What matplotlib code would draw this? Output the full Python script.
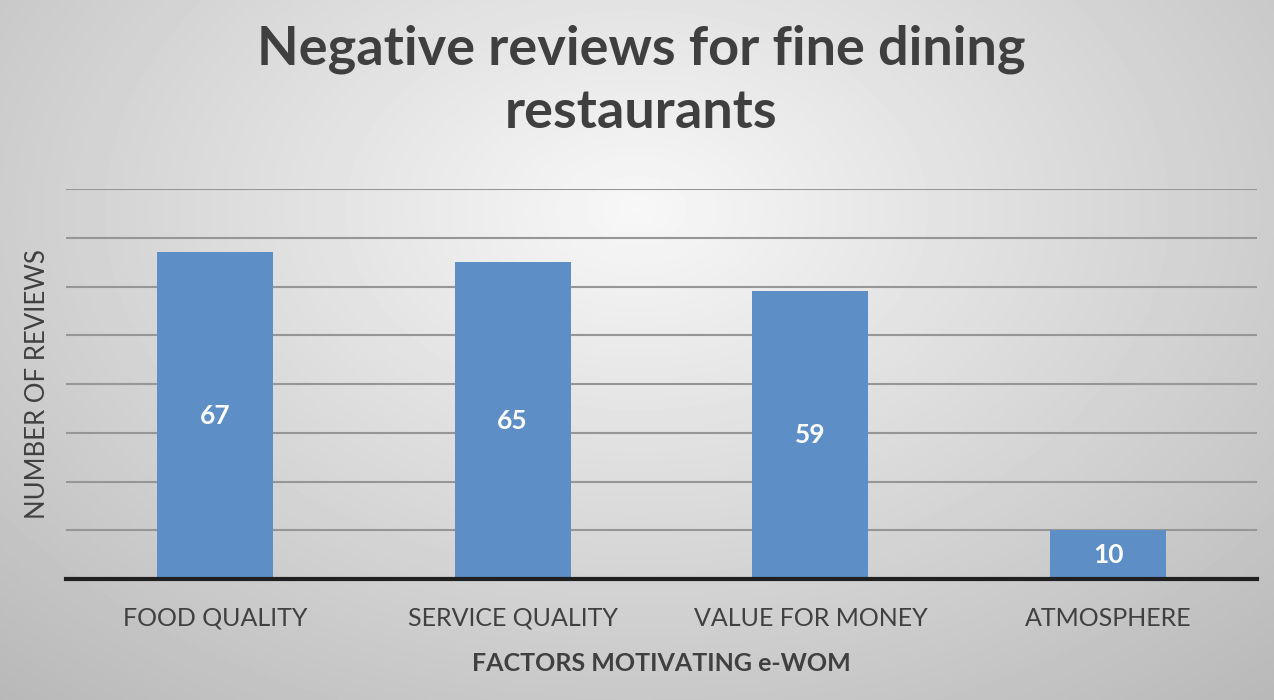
import numpy as np
import matplotlib.pyplot as plt

categories = ['FOOD QUALITY', 'SERVICE QUALITY', 'VALUE FOR MONEY', 'ATMOSPHERE']
reviews = [67, 65, 59, 10]

plt.rcParams['font.family'] = ['Lato', 'DejaVu Sans']

fig = plt.figure(figsize=(12.74, 7), dpi=100)

# radial grey background like the office chart style
bg = fig.add_axes([0, 0, 1, 1], zorder=-10)
yy, xx = np.mgrid[0:1:350j, 0:1:637j]
r = np.sqrt(((xx - 0.5) * 1.0)**2 + ((yy - 0.3) * 0.8)**2)
bg.imshow(0.97 - 0.33 * r, cmap='gray', vmin=0, vmax=1, aspect='auto',
          extent=[0, 1, 1, 0])
bg.set_xlim(0, 1)
bg.set_ylim(1, 0)
bg.axis('off')

ax = fig.add_axes([66/1274, 1 - 579/700, (1257-66)/1274, 390/700])
ax.patch.set_alpha(0)

x = np.arange(len(categories))
bars = ax.bar(x, reviews, width=0.39, color='#5E8EC6', zorder=3)
for b, v in zip(bars, reviews):
    ax.text(b.get_x() + b.get_width()/2, v/2, str(v), ha='center', va='center',
            color='white', fontsize=19, fontweight='bold', zorder=4)

ax.set_xlim(-0.5, len(categories) - 0.5)
ax.set_ylim(0, 80)
ax.set_yticks(np.arange(0, 81, 10))
ax.set_yticklabels([])
ax.tick_params(axis='y', length=0)
ax.tick_params(axis='x', length=0, pad=20, labelsize=18, labelcolor='#404040')
ax.set_xticks(x)
ax.set_xticklabels(categories)
ax.grid(axis='y', color='#969696', linewidth=1.5, zorder=0)
for s in ['top', 'right', 'left']:
    ax.spines[s].set_visible(False)
ax.spines['bottom'].set_linewidth(3)
ax.spines['bottom'].set_color('#202020')
ax.spines['bottom'].set_zorder(5)

ax.set_xlabel('FACTORS MOTIVATING e-WOM', fontsize=18, fontweight='bold',
              color='#404040', labelpad=16)
ax.set_ylabel('NUMBER OF REVIEWS', fontsize=18.5, color='#404040', labelpad=8)

fig.text(0.503, 0.884, 'Negative reviews for fine dining\nrestaurants', ha='center',
         va='center', fontsize=39, fontweight='bold', color='#3f3f3f',
         linespacing=1.35)

fig.savefig('out.png', dpi=100)
